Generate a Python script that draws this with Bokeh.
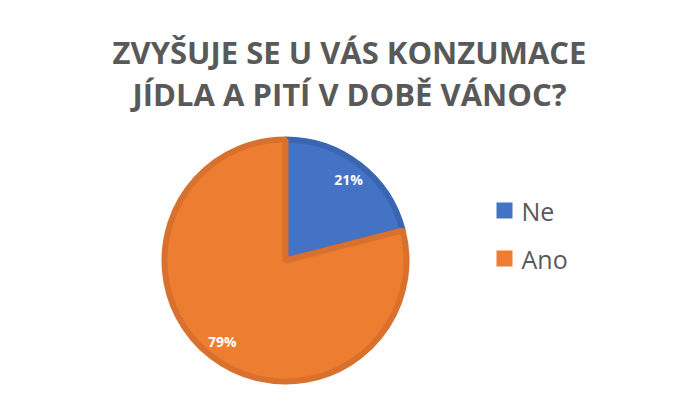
import numpy as np
from bokeh.core.properties import value
from bokeh.embed import file_html
from bokeh.models import ColumnDataSource, Range1d
from bokeh.plotting import figure
from bokeh.resources import INLINE

title_lines = ["ZVYŠUJE SE U VÁS KONZUMACE", "JÍDLA A PITÍ V DOBĚ VÁNOC?"]
categories = ["Ne", "Ano"]
shares = [21, 79]
fill_colors = ["#4472C4", "#ED7D31"]
edge_colors = ["#3A65B3", "#D8712D"]

W, H = 674, 389
cx, cy, r = 285, 129, 124

shares_arr = np.array(shares, dtype=float)
frac = shares_arr / shares_arr.sum()
ends = np.pi / 2 - np.concatenate([[0], np.cumsum(frac)[:-1]]) * 2 * np.pi
starts = ends - frac * 2 * np.pi
mids = (starts + ends) / 2

src = ColumnDataSource(dict(
    cat=categories, start=starts, end=ends, fill=fill_colors, edge=edge_colors,
    lx=cx + 0.83 * r * np.cos(mids), ly=cy + 0.83 * r * np.sin(mids),
    label=[f"{s}%" for s in shares],
))

p = figure(width=W, height=H, output_backend="svg", toolbar_location=None,
           x_range=Range1d(0, W), y_range=Range1d(0, H), min_border=0)
p.axis.visible = False
p.grid.visible = False
p.outline_line_color = None

p.wedge(x=cx, y=cy, radius=r - 3, start_angle="start", end_angle="end",
        fill_color="fill", line_color="edge", line_width=6, source=src)

p.text(x="lx", y="ly", text="label", source=src, text_color="white",
       text_font=value("Open Sans"), text_font_style="bold", text_font_size="14px",
       text_align="center", text_baseline="middle")

# title
p.text(x=[349, 349], y=[338, 296], text=title_lines, text_color="#595959",
       text_font=value("Open Sans"), text_font_style="bold", text_font_size="31px",
       text_align="center", text_baseline="alphabetic")

# legend
leg = ColumnDataSource(dict(x=[504, 504], y=[179, 131], tx=[521, 521],
                            cat=categories, fill=fill_colors))
p.scatter(x="x", y="y", marker="square", size=16, fill_color="fill",
          line_color=None, source=leg)
p.text(x="tx", y="y", text="cat", source=leg, text_color="#595959",
       text_font=value("Open Sans"), text_font_size="25px",
       text_align="left", text_baseline="middle")

open("out.html", "w").write(file_html(p, INLINE))
